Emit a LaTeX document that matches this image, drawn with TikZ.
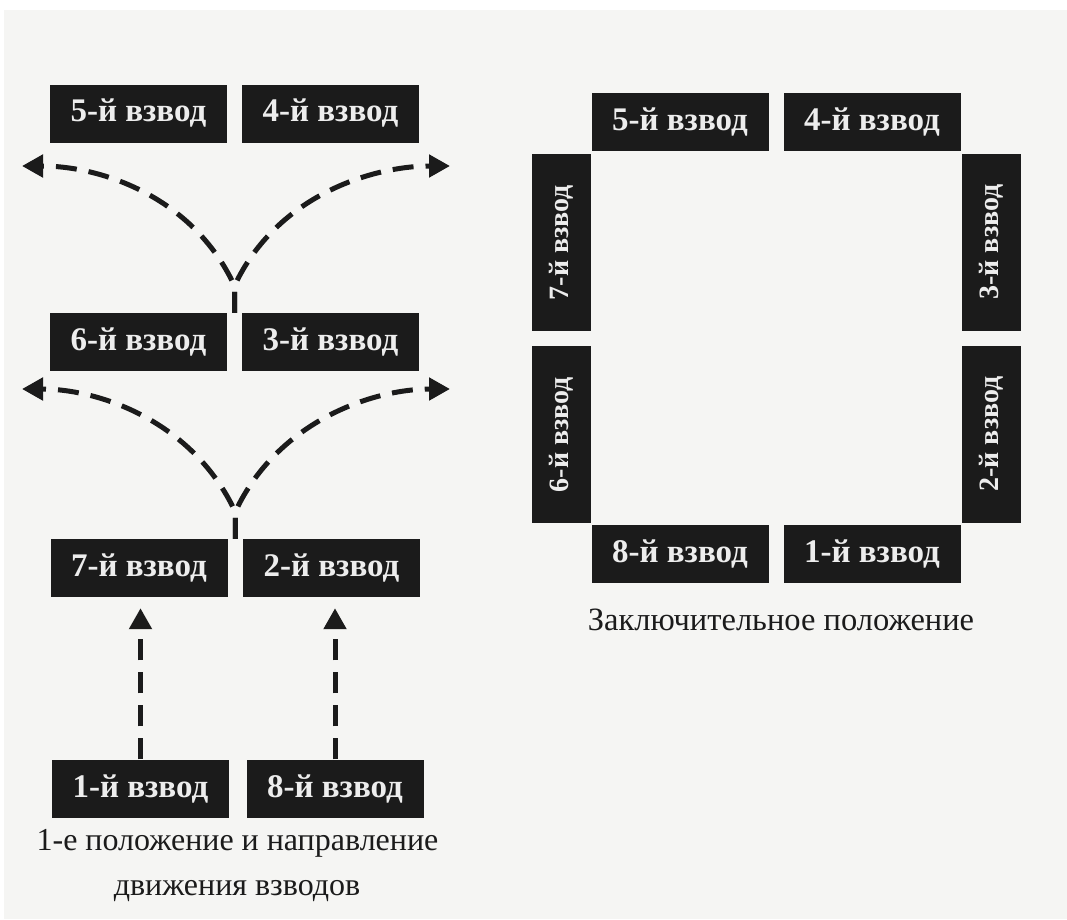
\documentclass[tikz,border=0pt]{standalone}
\usepackage{fontspec}
\setmainfont{Liberation Serif}
\usepackage{xcolor}
\usepackage{tikz}
\usetikzlibrary{arrows.meta,calc}

\definecolor{ink}{HTML}{1B1B1B}
\definecolor{paper}{HTML}{F5F5F3}

\tikzset{
	vzvod/.style={fill=ink, text=white!93!black, minimum width=177pt, minimum height=58pt, inner sep=0pt, font=\fontsize{33}{33}\selectfont\bfseries},
	vzvodv/.style={vzvod, rotate=90, minimum height=59pt, font=\fontsize{28}{28}\selectfont\bfseries},
	podpis/.style={anchor=base, text=ink, inner sep=0pt, font=\fontsize{32}{32}\selectfont},
	hod/.style={draw=ink, line width=5pt, dash pattern=on 21pt off 12pt, -{Triangle[length=21pt,width=22pt]}}
}

\begin{document}
\begin{tikzpicture}[x=1pt, y=-1pt]
		\useasboundingbox (0,0) rectangle (1067,919);
		\fill[white] (0,0) rectangle (1067,919);
		\fill[paper] (4,10) rectangle (1067,919);

		\node[vzvod] (l5) at (138.5,113.5) {5-й взвод};
		\node[vzvod] (l4) at (330.5,113.5) {4-й взвод};
		\node[vzvod] (l6) at (138.5,342) {6-й взвод};
		\node[vzvod] (l3) at (330.5,342) {3-й взвод};
		\node[vzvod] (l7) at (139,568) {7-й взвод};
		\node[vzvod] (l2) at (331.5,568) {2-й взвод};
		\node[vzvod] (l1) at (140.5,788.5) {1-й взвод};
		\node[vzvod] (l8) at (335,788.5) {8-й взвод};

		\node[podpis] (c1) at (237.5,850) {1-е положение и направление};
		\node[podpis] (c2) at (237,895) {движения взводов};

		\draw[hod, shorten >=11pt] (l1.north) -- (l1.north |- l7.south);
		\draw[hod, shorten >=11pt] (l8.north) -- (l8.north |- l2.south);

		\coordinate (f1) at ($(l6.north east)!.5!(l3.north west)$);
		\coordinate (f2) at ($(l7.north east)!.5!(l2.north west)$);
		\coordinate (a5) at (22,166);
		\coordinate (a4) at (450,166);
		\coordinate (a6) at (22,389);
		\coordinate (a3) at (450,389);
		\foreach \f/\t/\s in {f1/a5/-1, f1/a4/1, f2/a6/-1, f2/a3/1}
		\draw[hod] (\f) -- ($(\f)+(0,-27)$) .. controls ($(\f)+(\s*42,-117)$) and ($(\t)+(\s*-78,0)$) .. (\t);

		\node[vzvod] (r5) at (680,122) {5-й взвод};
		\node[vzvod] (r4) at (872,122) {4-й взвод};
		\node[vzvodv] (r7) at (561.5,242.5) {7-й взвод};
		\node[vzvodv] (r6) at (561.5,434.5) {6-й взвод};
		\node[vzvodv] (r3) at (991,242) {3-й взвод};
		\node[vzvodv] (r2) at (991,434) {2-й взвод};
		\node[vzvod] (r8) at (680,554) {8-й взвод};
		\node[vzvod] (r1) at (872,554) {1-й взвод};

		\node[podpis, font=\fontsize{32.5}{32.5}\selectfont] (c3) at (781,630) {Заключительное положение};
	\end{tikzpicture}
\end{document}
